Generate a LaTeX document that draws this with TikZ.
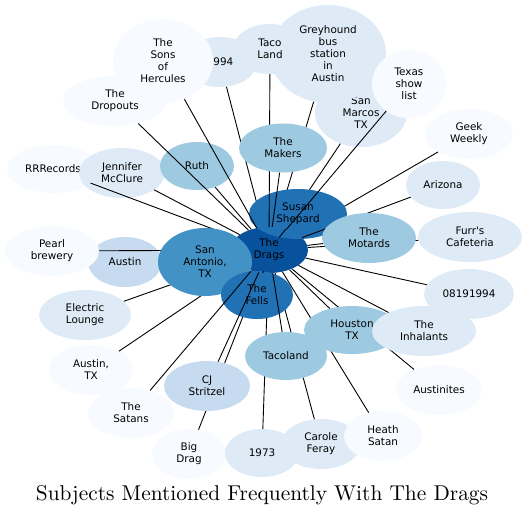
\documentclass[tikz,border=0pt]{standalone}
\usepackage{fontspec}
\newfontfamily\dvs{DejaVu Sans}
\newfontfamily\ttl{lmroman10-regular.otf}
\usetikzlibrary{shapes.geometric}
\definecolor{cA}{HTML}{08519C}
\definecolor{cB}{HTML}{2171B5}
\definecolor{cC}{HTML}{4292C6}
\definecolor{cD}{HTML}{9ECAE1}
\definecolor{cE}{HTML}{C6DBEF}
\definecolor{cF}{HTML}{DEEBF7}
\definecolor{cG}{HTML}{F7FBFF}
\begin{document}
\begin{tikzpicture}[x=1pt,y=-1pt,
  bub/.style={ellipse, inner sep=0pt, align=center, text=black,
    font=\dvs\fontsize{10.4}{12}\selectfont},
  edge/.style={draw=black, line width=0.9pt}]
\useasboundingbox (0,0) rectangle (526,515);
% outer nodes
\node[bub,fill=cG,minimum width=104pt,minimum height=50pt] (dropouts) at (115,101) {The\\Dropouts};
\node[bub,fill=cF,minimum width=74pt,minimum height=50pt] (y1994) at (220,62) {1994};
\node[bub,fill=cG,minimum width=100pt,minimum height=84pt] (sons) at (163,61) {The\\Sons\\of\\Hercules};
\node[bub,fill=cF,minimum width=92pt,minimum height=68pt] (smarcos) at (361,113) {San\\Marcos\\TX};
\node[bub,fill=cF,minimum width=116pt,minimum height=98pt] (grey) at (328,54) {Greyhound\\bus\\station\\in\\Austin};
\node[bub,fill=cF,minimum width=74pt,minimum height=50pt] (tacoL) at (270,49) {Taco\\Land};
\node[bub,fill=cG,minimum width=74pt,minimum height=68pt] (texas) at (409,84) {Texas\\show\\list};
\node[bub,fill=cG,minimum width=88pt,minimum height=50pt] (geek) at (469,134) {Geek\\Weekly};
\node[bub,fill=cF,minimum width=74pt,minimum height=48pt] (arizona) at (443,185) {Arizona};
\node[bub,fill=cF,minimum width=104pt,minimum height=50pt] (furrs) at (470,237) {Furr{\char39}s\\Cafeteria};
\node[bub,fill=cF,minimum width=90pt,minimum height=50pt] (n0819) at (469,294) {08191994};
\node[bub,fill=cG,minimum width=86pt,minimum height=50pt] (austinites) at (439,390) {Austinites};
\node[bub,fill=cG,minimum width=74pt,minimum height=50pt] (bigdrag) at (189,454) {Big\\Drag};
\node[bub,fill=cF,minimum width=74pt,minimum height=48pt] (y1973) at (262,453) {1973};
\node[bub,fill=cF,minimum width=80pt,minimum height=50pt] (carole) at (321,444) {Carole\\Feray};
\node[bub,fill=cG,minimum width=78pt,minimum height=50pt] (heath) at (383,436) {Heath\\Satan};
\node[bub,fill=cG,minimum width=84pt,minimum height=50pt] (austintx) at (91,370) {Austin,\\TX};
\node[bub,fill=cG,minimum width=86pt,minimum height=50pt] (satans) at (131,413) {The\\Satans};
\node[bub,fill=cF,minimum width=92pt,minimum height=50pt] (electric) at (85,315) {Electric\\Lounge};
\node[bub,fill=cG,minimum width=92pt,minimum height=48pt] (rrr) at (53,169) {RRRecords};
\node[bub,fill=cF,minimum width=86pt,minimum height=50pt] (jen) at (122,173) {Jennifer\\McClure};
\node[bub,fill=cE,minimum width=74pt,minimum height=50pt] (austin) at (125,262) {Austin};
\node[bub,fill=cG,minimum width=94pt,minimum height=50pt] (pearl) at (52,251) {Pearl\\brewery};
\node[bub,fill=cD,minimum width=74pt,minimum height=48pt] (ruth) at (197,166) {Ruth};
% hub
\node[bub,fill=cA,minimum width=78pt,minimum height=46pt] (drags) at (269,250) {The\\Drags};
% edges under Susan Shepard
\draw[edge] (drags) -- (y1994);
\draw[edge] (drags) -- (grey);
\draw[edge] (drags) -- (smarcos);
\draw[edge] (drags) -- (geek);
\node[bub,fill=cB,minimum width=98pt,minimum height=50pt] (susan) at (298,214) {Susan\\Shepard};
% main edges
\draw[edge] (drags) -- (tacoL);
\draw[edge] (drags) -- (texas);
\draw[edge] (drags) -- (dropouts);
\draw[edge] (drags) -- (sons);
\draw[edge] (drags) -- (ruth);
\draw[edge] (drags) -- (jen);
\draw[edge] (drags) -- (rrr);
\draw[edge] (drags) -- (pearl);
\draw[edge] (drags) -- (austin);
\draw[edge] (drags) -- (electric);
\draw[edge] (drags) -- (austintx);
\draw[edge] (drags) -- (bigdrag);
\draw[edge] (drags) -- (y1973);
\draw[edge] (drags) -- (carole);
\draw[edge] (drags) -- (heath);
\draw[edge] (drags) -- (austinites);
\draw[edge] (drags) -- (n0819);
\draw[edge] (drags) -- (furrs);
\draw[edge] (drags) -- (arizona);
\draw[edge] (drags) -- (susan);
% upper nodes
\node[bub,fill=cD,minimum width=88pt,minimum height=49pt] (makers) at (283,148) {The\\Makers};
\node[bub,fill=cD,minimum width=94pt,minimum height=50pt] (motards) at (369,238) {The\\Motards};
\node[bub,fill=cD,minimum width=96pt,minimum height=48pt] (houston) at (352,330) {Houston\\TX};
\node[bub,fill=cD,minimum width=82pt,minimum height=48pt] (tacoland) at (286,356) {Tacoland};
\node[bub,fill=cF,minimum width=104pt,minimum height=50pt] (inhal) at (424,331) {The\\Inhalants};
\node[bub,fill=cE,minimum width=86pt,minimum height=50pt] (cj) at (207,386) {CJ\\Stritzel};
\coordinate (saC) at (205,262);
\draw[edge] (drags) -- (saC);
\node[bub,fill=cC,minimum width=94pt,minimum height=68pt] (sa) at (205,262) {San\\Antonio,\\TX};
\node[bub,fill=cB,minimum width=72pt,minimum height=48pt] (fells) at (257,295) {The\\Fells};
\draw[edge] (drags) -- (makers);
\draw[edge] (drags) -- (motards);
\draw[edge] (drags) -- (houston);
\draw[edge] (drags) -- (tacoland);
\draw[edge] (drags) -- (inhal);
\draw[edge] (drags) -- (cj);
\draw[edge] (drags) -- (satans);
\draw[edge] (drags) -- (fells);
% title
\node[anchor=base] (title) at (262,500) {\ttl\fontsize{21.4}{26}\selectfont Subjects Mentioned Frequently With The Drags};
\end{tikzpicture}
\end{document}
